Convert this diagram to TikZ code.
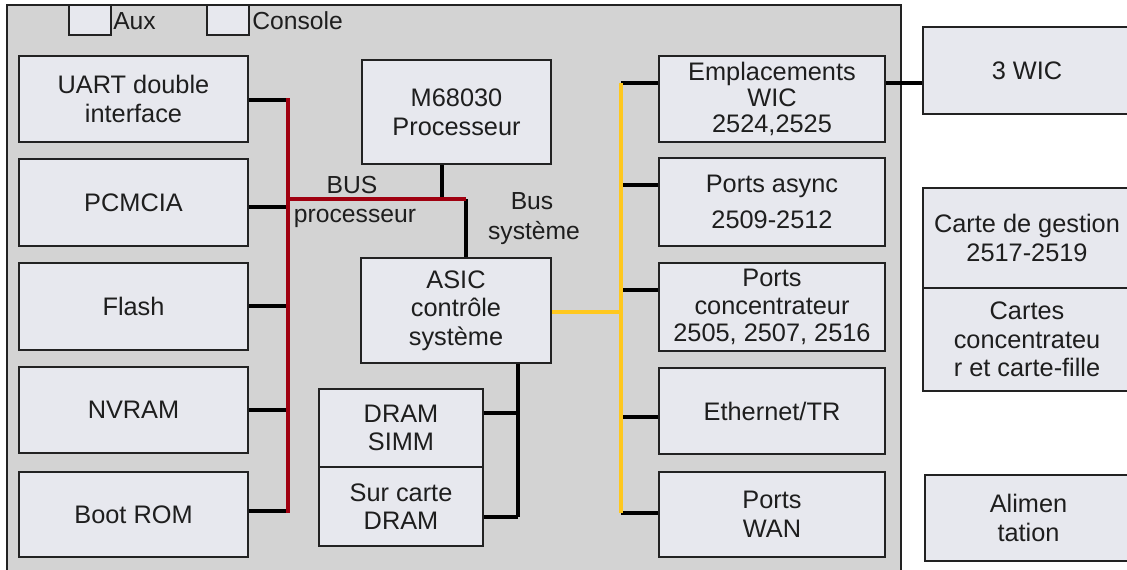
\documentclass[tikz,border=0pt]{standalone}
\usepackage{fontspec}
\setmainfont{Liberation Sans}
\definecolor{panel}{HTML}{D3D3D3}
\definecolor{boxfill}{HTML}{E7E8EE}
\definecolor{linec}{HTML}{222222}
\definecolor{busred}{HTML}{A00010}
\definecolor{busyel}{HTML}{FFC81E}
\definecolor{txt}{HTML}{1E1E1E}
\begin{document}
\begin{tikzpicture}[x=0.75pt,y=-0.75pt,
  sz/.style 2 args={minimum width=#1*0.75pt, minimum height=#2*0.75pt},
  box/.style={draw=linec, fill=boxfill, line width=1.5pt, inner sep=0pt,
    align=center, text=txt, font=\fontsize{19}{21.5}\selectfont},
  lbl/.style={inner sep=0pt, text=txt, font=\fontsize{18.5}{21.5}\selectfont},
  stub/.style={draw=black, line width=3pt},
  redbus/.style={draw=busred, line width=3pt},
  yelbus/.style={draw=busyel, line width=3pt}]
\useasboundingbox (0,0) rectangle (1127,569);
\clip (0,0) rectangle (1127,569);
\fill[white] (0,0) rectangle (1127,569);

% main board
\node[draw=linec, fill=panel, line width=1.5pt, inner sep=0pt, sz={894}{620}] (board) at (454,315) {};

% connector sockets
\node[box, sz={42}{30}] (aux) at (90,20) {};
\node[lbl, anchor=west] (auxl) at (113,21) {Aux};
\node[box, sz={42}{30}] (con) at (228,20) {};
\node[lbl, anchor=west] (conl) at (252,21) {Console};

% left column
\node[box, sz={229}{86}] (uart) at (133.5,99) {UART double\\interface};
\node[box, sz={229}{87}] (pcm) at (133.5,202.5) {PCMCIA};
\node[box, sz={229}{87}] (flash) at (133.5,306.5) {Flash};
\node[box, sz={229}{86}] (nvram) at (133.5,410) {NVRAM};
\node[box, sz={229}{85}] (boot) at (133.5,514.5) {Boot ROM};

% processor and system controller
\node[box, sz={189}{104}] (cpu) at (456.5,112) {M68030\\Processeur};
\node[box, sz={190}{105}] (asic) at (456,310.5) {ASIC\\contr\^ole\\syst\`eme};
\node[box, sz={164}{78}] (simm) at (401,428) {DRAM\\SIMM};
\node[box, sz={164}{79}] (dram) at (401,506.5) {Sur carte\\DRAM};

% right column
\node[box, sz={226}{86}, font=\fontsize{19}{19.5}\selectfont] (wic) at (772,99) {Emplacements\\WIC\\2524,2525};
\node[box, sz={226}{88}] (async) at (772,202) {Ports async\\[5pt]2509-2512};
\node[box, sz={226}{88}, font=\fontsize{19}{20.5}\selectfont] (conc) at (772,307) {Ports\\concentrateur\\2505, 2507, 2516};
\node[box, sz={226}{86}] (eth) at (772,411) {Ethernet/TR};
\node[box, sz={226}{85}] (wan) at (772,514.5) {Ports\\WAN};

% external modules
\node[box, sz={209}{87}] (wic3) at (1027,70.5) {3 WIC};
\node[box, sz={209}{100}] (mgmt) at (1027,238) {Carte de gestion\\2517-2519};
\node[box, sz={209}{103}] (hub) at (1027,339.5) {Cartes\\concentrateu\\r et carte-fille};
\node[box, sz={207}{86}] (psu) at (1028.5,518) {Alimen\\tation};

% processor bus junctions
\coordinate (r1) at (288,100);
\coordinate (r2) at (288,207);
\coordinate (r3) at (288,306);
\coordinate (r4) at (288,410);
\coordinate (r5) at (288,511);
\coordinate (rj) at (288,199);
\coordinate (re) at (466,199);
\coordinate (rc) at (442,199);

\draw[stub] (uart.east |- r1) -- (r1);
\draw[stub] (pcm.east |- r2) -- (r2);
\draw[stub] (flash.east |- r3) -- (r3);
\draw[stub] (nvram.east |- r4) -- (r4);
\draw[stub] (boot.east |- r5) -- (r5);
\draw[stub] (cpu.south -| rc) -- (rc);
\draw[stub] (re) -- (asic.north -| re);
\draw[redbus, line cap=rect] (r1) -- (r5);
\draw[redbus] (rj) -- (re);

% memory links
\coordinate (m1) at (518,413);
\coordinate (m2) at (518,517);
\draw[stub] (asic.south -| m1) -- (m2);
\draw[stub] (simm.east |- m1) -- (m1);
\draw[stub] (dram.east |- m2) -- (m2);

% system bus junctions
\coordinate (y1) at (621,83);
\coordinate (y2) at (621,185);
\coordinate (y3) at (621,290);
\coordinate (y4) at (621,417);
\coordinate (y5) at (621,513);
\coordinate (ya) at (621,312);
\draw[stub] (y1) -- (y1 -| wic.west);
\draw[stub] (y2) -- (y2 -| async.west);
\draw[stub] (y3) -- (y3 -| conc.west);
\draw[stub] (y4) -- (y4 -| eth.west);
\draw[stub] (y5) -- (y5 -| wan.west);
\draw[yelbus] (y1) -- (y5);
\draw[yelbus] (asic.east |- ya) -- (ya);

% slot link to WIC cards
\draw[stub] (wic.east |- y1) -- (wic3.west |- y1);

% bus labels
\node[lbl] (busa) at (352,185) {BUS};
\node[lbl] (busb) at (355,218) {processeur};
\node[lbl] (busc) at (532,201) {Bus};
\node[lbl] (busd) at (534,233) {syst\`eme};
\end{tikzpicture}
\end{document}
